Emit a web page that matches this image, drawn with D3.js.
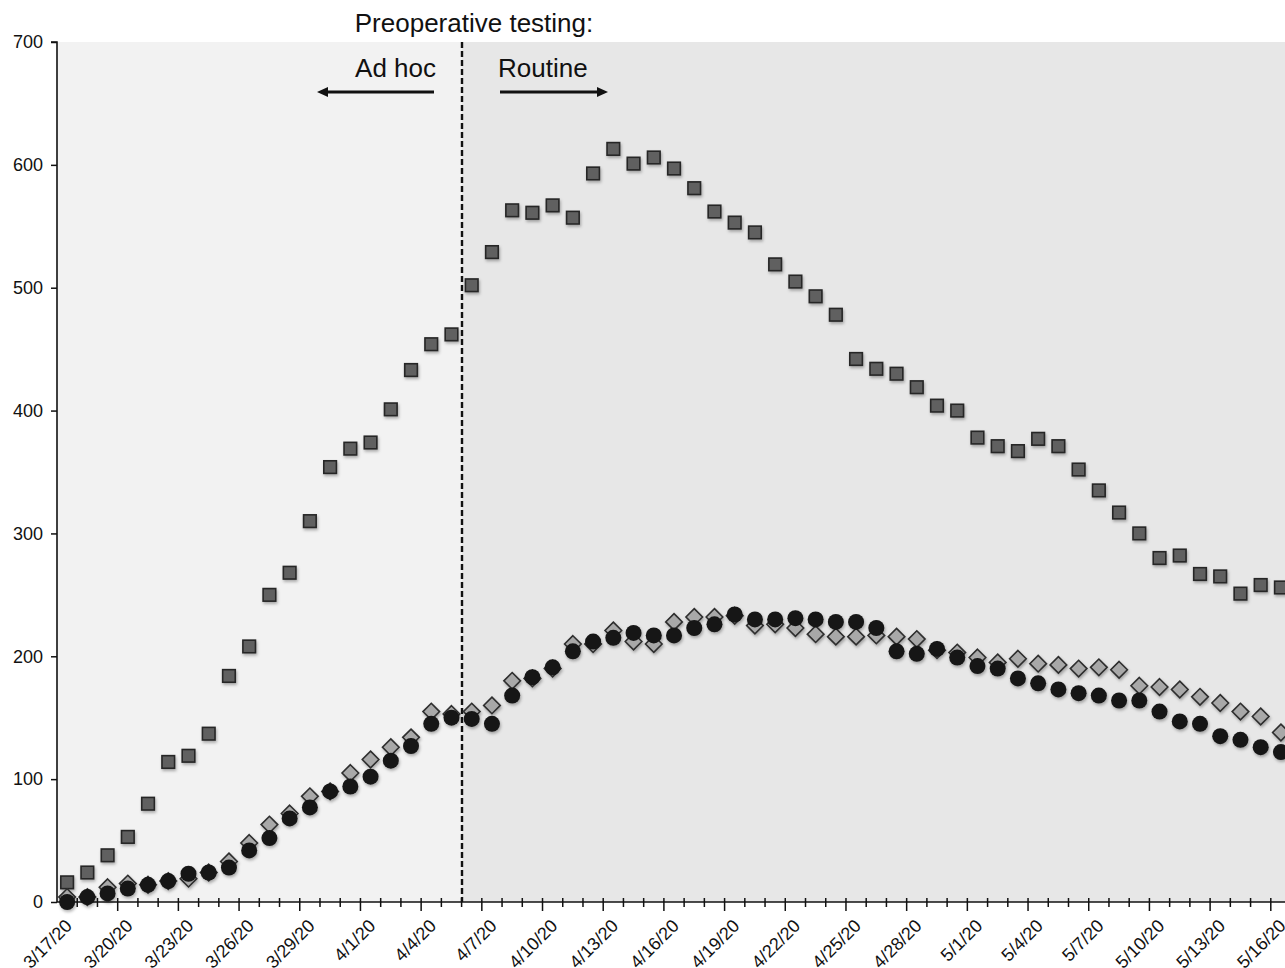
<!DOCTYPE html>
<html>
<head>
<meta charset="utf-8">
<script src="https://cdn.jsdelivr.net/npm/d3@7"></script>
<style>
  body { margin: 0; background: #fff; }
  text { font-family: "Liberation Sans", Arial, Helvetica, sans-serif; fill: #111; }
</style>
</head>
<body>
<div id="chart"></div>
<script>
// Categories (one per day)
var dates = ["3/17/20","3/18/20","3/19/20","3/20/20","3/21/20","3/22/20","3/23/20","3/24/20","3/25/20","3/26/20",
  "3/27/20","3/28/20","3/29/20","3/30/20","3/31/20","4/1/20","4/2/20","4/3/20","4/4/20","4/5/20",
  "4/6/20","4/7/20","4/8/20","4/9/20","4/10/20","4/11/20","4/12/20","4/13/20","4/14/20","4/15/20",
  "4/16/20","4/17/20","4/18/20","4/19/20","4/20/20","4/21/20","4/22/20","4/23/20","4/24/20","4/25/20",
  "4/26/20","4/27/20","4/28/20","4/29/20","4/30/20","5/1/20","5/2/20","5/3/20","5/4/20","5/5/20",
  "5/6/20","5/7/20","5/8/20","5/9/20","5/10/20","5/11/20","5/12/20","5/13/20","5/14/20","5/15/20","5/16/20"];

// Series values
var squareValues = [16,24,38,53,80,114,119,137,184,208,
  250,268,310,354,369,374,401,433,454,462,
  502,529,563,561,567,557,593,613,601,606,
  597,581,562,553,545,519,505,493,478,442,
  434,430,419,404,400,378,371,367,377,371,
  352,335,317,300,280,282,267,265,251,258,256];

var diamondValues = [4,4,12,15,14,17,19,24,33,48,
  63,72,86,90,105,116,126,134,155,153,
  155,160,180,182,190,210,210,221,212,210,
  228,232,232,233,225,226,223,218,216,216,
  217,216,214,205,203,199,195,198,194,193,
  190,191,189,176,175,173,167,162,155,151,138];

var circleValues = [0,4,7,11,14,17,23,24,28,42,
  52,68,77,90,94,102,115,127,145,150,
  149,145,168,183,191,204,212,215,219,217,
  217,223,226,234,230,230,231,230,228,228,
  223,204,202,206,199,192,190,182,178,173,
  170,168,164,164,155,147,145,135,132,126,122];

var yTicks = [0,100,200,300,400,500,600,700];
var labelEvery = 3;
var splitDate = "4/6/20"; // first day of routine testing

var svgWidth = 1285, svgHeight = 968;
var plotLeft = 57, plotTop = 42, plotBottom = 902;
var bandW = 20.23;

var svg = d3.select("#chart").append("svg")
  .attr("width", svgWidth)
  .attr("height", svgHeight);

var defs = svg.append("defs");
var shadow = defs.append("filter").attr("id", "shadow")
  .attr("x", "-50%").attr("y", "-50%").attr("width", "200%").attr("height", "200%");
shadow.append("feDropShadow")
  .attr("dx", 1).attr("dy", 2).attr("stdDeviation", 1.5)
  .attr("flood-color", "#000").attr("flood-opacity", 0.3);

// scales
var x = d3.scaleBand()
  .domain(dates)
  .range([plotLeft, plotLeft + dates.length * bandW])
  .padding(0);

var y = d3.scaleLinear()
  .domain([0, 700])
  .range([plotBottom, plotTop]);

var splitX = Math.round(x(splitDate));

// background regions
svg.append("rect")
  .attr("x", plotLeft).attr("y", plotTop)
  .attr("width", splitX - plotLeft).attr("height", plotBottom - plotTop)
  .attr("fill", "#f2f2f2");
svg.append("rect")
  .attr("x", splitX).attr("y", plotTop)
  .attr("width", svgWidth - splitX).attr("height", plotBottom - plotTop)
  .attr("fill", "#e7e7e7");

// dashed divider
svg.append("line")
  .attr("x1", splitX).attr("x2", splitX)
  .attr("y1", plotTop).attr("y2", plotBottom)
  .attr("stroke", "#111").attr("stroke-width", 2.4)
  .attr("stroke-dasharray", "6,3");

// annotation text
svg.append("text")
  .attr("x", 474).attr("y", 32)
  .attr("text-anchor", "middle")
  .style("font-size", "26px")
  .text("Preoperative testing:");
svg.append("text")
  .attr("x", 436).attr("y", 77)
  .attr("text-anchor", "end")
  .style("font-size", "26px")
  .text("Ad hoc");
svg.append("text")
  .attr("x", 498).attr("y", 77)
  .style("font-size", "26px")
  .text("Routine");

// arrows: shaft plus filled head
function arrow(x0, x1, yy) {
  var dir = x1 > x0 ? 1 : -1;
  var headLen = 11, headHalf = 5;
  svg.append("line")
    .attr("x1", x0).attr("x2", x1 - dir * headLen + dir * 1)
    .attr("y1", yy).attr("y2", yy)
    .attr("stroke", "#111").attr("stroke-width", 3.2);
  svg.append("path")
    .attr("d", `M${x1},${yy}L${x1 - dir * headLen},${yy - headHalf}L${x1 - dir * headLen},${yy + headHalf}Z`)
    .attr("fill", "#111");
}
arrow(434, 317, 92);
arrow(500, 608, 92);

// y axis
var leftAxis = d3.axisLeft(y).tickValues(yTicks).tickSize(6).tickPadding(8);
var yAxisG = svg.append("g")
  .attr("transform", `translate(${plotLeft}, 0)`)
  .call(leftAxis);
yAxisG.select(".domain").attr("stroke", "#111").attr("stroke-width", 1.6)
  .attr("d", `M-6,${plotTop}H0V${plotBottom}`);
yAxisG.selectAll(".tick line").attr("stroke", "#111").attr("stroke-width", 1.5);
yAxisG.selectAll(".tick text").style("font-size", "18px").attr("fill", "#111");

// x axis: ticks on category boundaries
var xEdge = d3.scaleLinear()
  .domain([0, dates.length])
  .range([plotLeft, plotLeft + dates.length * bandW]);

var xAxisG = svg.append("g").attr("transform", `translate(0, ${plotBottom})`);
xAxisG.append("line")
  .attr("x1", plotLeft).attr("x2", svgWidth)
  .attr("stroke", "#111").attr("stroke-width", 1.6);
xAxisG.selectAll(".edgeTick")
  .data(d3.range(1, dates.length + 1))
  .enter().append("line")
  .attr("class", "edgeTick")
  .attr("x1", d => xEdge(d)).attr("x2", d => xEdge(d))
  .attr("y1", -4)
  .attr("y2", d => d % labelEvery === 0 ? 9 : 5)
  .attr("stroke", "#111").attr("stroke-width", 1.5);

xAxisG.selectAll(".dateLabel")
  .data(dates.filter((d, i) => i % labelEvery === 0))
  .enter().append("text")
  .attr("class", "dateLabel")
  .attr("transform", d => `translate(${x(d) + x.bandwidth() / 2 + 6}, 25) rotate(-45)`)
  .attr("text-anchor", "end")
  .style("font-size", "18px")
  .text(d => d);

// markers
var cx = d => x(d) + x.bandwidth() / 2;
var marks = svg.append("g").attr("filter", "url(#shadow)");

marks.selectAll(".sq")
  .data(dates)
  .enter().append("rect")
  .attr("class", "sq")
  .attr("x", (d, i) => cx(d) - 6.3)
  .attr("y", (d, i) => y(squareValues[i]) - 6.3)
  .attr("width", 12.6).attr("height", 12.6)
  .attr("fill", "#606060").attr("stroke", "#262626").attr("stroke-width", 1.6);

marks.selectAll(".dm")
  .data(dates)
  .enter().append("path")
  .attr("class", "dm")
  .attr("d", (d, i) => {
    var px = cx(d), py = y(diamondValues[i]), r = 8.3;
    return `M${px},${py - r}L${px + r},${py}L${px},${py + r}L${px - r},${py}Z`;
  })
  .attr("fill", "#a8a8a8").attr("stroke", "#2e2e2e").attr("stroke-width", 1.6);

marks.selectAll(".ci")
  .data(dates)
  .enter().append("circle")
  .attr("class", "ci")
  .attr("cx", d => cx(d))
  .attr("cy", (d, i) => y(circleValues[i]))
  .attr("r", 8)
  .attr("fill", "#141414");
</script>
</body>
</html>
